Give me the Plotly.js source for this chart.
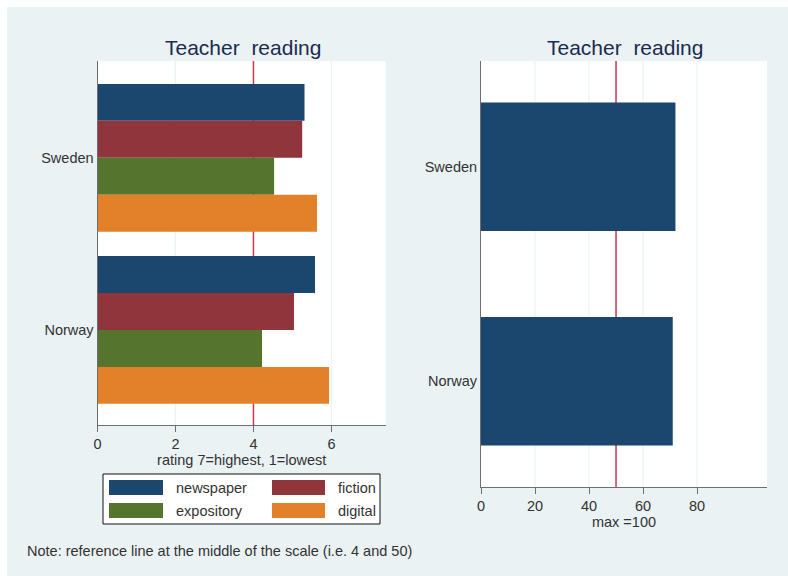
<!DOCTYPE html>
<html>
<head>
<meta charset="utf-8">
<script src="https://cdn.plot.ly/plotly-3.0.1.min.js"></script>
<style>
html,body{margin:0;padding:0;background:#ffffff;width:788px;height:576px;overflow:hidden;}
#chart{position:absolute;left:7px;top:7px;width:781px;height:569px;}
</style>
</head>
<body>
<div id="chart"></div>
<script>
// ---- data ----
const countries = ['Sweden', 'Norway'];
const seriesNames = ['newspaper', 'fiction', 'expository', 'digital'];
const newspaper = [5.31, 5.58];
const fiction = [5.25, 5.04];
const expository = [4.53, 4.22];
const digital = [5.63, 5.94];
const teacherReadingPct = [72, 71];
const leftTicks = [0, 2, 4, 6];
const rightTicks = [0, 20, 40, 60, 80];
const leftRef = 4;
const rightRef = 50;
const titleText = 'Teacher  reading';
const leftAxisTitle = 'rating 7=highest, 1=lowest';
const rightAxisTitle = 'max =100';
const noteText = 'Note: reference line at the middle of the scale (i.e. 4 and 50)';

// ---- styling ----
const colors = ['#1b476f', '#90353b', '#55752f', '#e3812a'];
const W = 781, H = 569;
const px = v => v / W;
const py = v => 1 - v / H;
const FONT = 'Liberation Sans, Arial, sans-serif';
const txt = '#333333';
const axisCol = '#6e6e6e';
const gridCol = '#eaf2f3';
const refCol = '#c8384b';

const leftVals = [newspaper, fiction, expository, digital];
const traces = leftVals.map((vals, i) => ({
  type: 'bar', orientation: 'h',
  x: vals, y: countries,
  name: seriesNames[i],
  marker: {color: colors[i], line: {width: 0}},
  xaxis: 'x', yaxis: 'y',
  showlegend: false
}));
traces.push({
  type: 'bar', orientation: 'h',
  x: teacherReadingPct, y: countries,
  name: 'teacher reading',
  width: 0.6,
  marker: {color: colors[0], line: {width: 0}},
  xaxis: 'x2', yaxis: 'y2',
  showlegend: false
});

const axisCommon = {
  showline: true, linecolor: axisCol, linewidth: 1,
  ticks: 'outside', ticklen: 6, tickcolor: axisCol, tickwidth: 1,
  tickfont: {family: FONT, size: 14.5, color: txt},
  zeroline: false, fixedrange: true, showgrid: false
};

const shapes = [];
// gridlines (drawn as shapes so the reference line can sit on top of them, below the bars)
leftTicks.filter(t => t !== 0 && t !== leftRef).forEach(t => shapes.push({
  type: 'line', xref: 'x', yref: 'y domain', x0: t, x1: t, y0: 0, y1: 1,
  line: {color: gridCol, width: 1.2}, layer: 'below'}));
rightTicks.filter(t => t !== 0 && t !== rightRef).forEach(t => shapes.push({
  type: 'line', xref: 'x2', yref: 'y2 domain', x0: t, x1: t, y0: 0, y1: 1,
  line: {color: gridCol, width: 1.2}, layer: 'below'}));
// reference lines
shapes.push({type: 'line', xref: 'x', yref: 'y domain', x0: leftRef, x1: leftRef, y0: 0, y1: 1,
  line: {color: refCol, width: 1.5}, layer: 'below'});
shapes.push({type: 'line', xref: 'x2', yref: 'y2 domain', x0: rightRef, x1: rightRef, y0: 0, y1: 1,
  line: {color: refCol, width: 1.5}, layer: 'below'});

// manual legend (Stata style)
shapes.push({type: 'rect', xref: 'paper', yref: 'paper', x0: px(96), x1: px(373), y0: py(467), y1: py(517),
  fillcolor: '#ffffff', line: {color: '#111111', width: 1}, layer: 'above'});
const legCols = [{sx0: 102, sx1: 156, tx: 166.7}, {sx0: 265, sx1: 318, tx: 329}];
const legRows = [{y0: 473, y1: 488}, {y0: 496, y1: 511}];
const annotations = [];
seriesNames.forEach((nm, i) => {
  const c = legCols[i % 2], r = legRows[Math.floor(i / 2)];
  shapes.push({type: 'rect', xref: 'paper', yref: 'paper', x0: px(c.sx0), x1: px(c.sx1), y0: py(r.y0), y1: py(r.y1),
    fillcolor: colors[i], line: {width: 0}, layer: 'above'});
  annotations.push({xref: 'paper', yref: 'paper', x: px(c.tx), y: py((r.y0 + r.y1) / 2),
    xanchor: 'left', yanchor: 'middle', text: nm, showarrow: false,
    font: {family: FONT, size: 14.5, color: txt}});
});

// titles
annotations.push({xref: 'paper', yref: 'paper', x: px(236), y: py(40), xanchor: 'center', yanchor: 'middle',
  text: titleText, showarrow: false, font: {family: FONT, size: 21, color: '#1c2b50'}});
annotations.push({xref: 'paper', yref: 'paper', x: px(617.5), y: py(40), xanchor: 'center', yanchor: 'middle',
  text: titleText, showarrow: false, font: {family: FONT, size: 21, color: '#1c2b50'}});
// note
annotations.push({xref: 'paper', yref: 'paper', x: px(18), y: py(544), xanchor: 'left', yanchor: 'middle',
  text: noteText, showarrow: false, font: {family: FONT, size: 14.5, color: txt}});

const layout = {
  width: W, height: H,
  margin: {l: 0, r: 0, t: 0, b: 0},
  paper_bgcolor: '#eaf2f3',
  plot_bgcolor: '#ffffff',
  barmode: 'group', bargap: 0.142, bargroupgap: 0,
  showlegend: false,
  xaxis: Object.assign({}, axisCommon, {
    domain: [px(90.5), px(379)], anchor: 'y',
    range: [0, 7.40], tickvals: leftTicks,
    title: {text: leftAxisTitle, standoff: 1, font: {family: FONT, size: 14.5, color: txt}}
  }),
  yaxis: Object.assign({}, axisCommon, {
    domain: [py(418), py(54)], anchor: 'x',
    type: 'category', range: [1.552, -0.562],
    ticks: ''
  }),
  xaxis2: Object.assign({}, axisCommon, {
    domain: [px(474), px(760)], anchor: 'y2',
    range: [0, 105.9], tickvals: rightTicks,
    title: {text: rightAxisTitle, standoff: 0, font: {family: FONT, size: 14.5, color: txt}}
  }),
  yaxis2: Object.assign({}, axisCommon, {
    domain: [py(480), py(54)], anchor: 'x2',
    type: 'category', range: [1.493, -0.493],
    ticks: ''
  }),
  shapes: shapes,
  annotations: annotations,
  font: {family: FONT, color: txt}
};

Plotly.newPlot('chart', traces, layout, {displayModeBar: false, staticPlot: true});
</script>
</body>
</html>
